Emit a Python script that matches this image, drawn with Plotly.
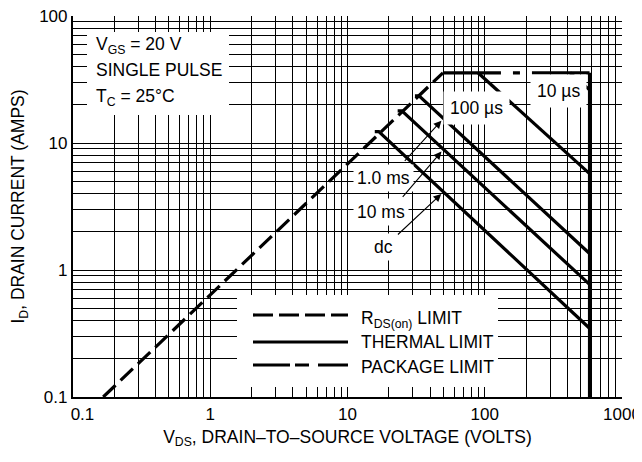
import numpy as np
import plotly.graph_objects as go

FONT = "Liberation Sans, Arial, Helvetica, sans-serif"
FS = 17.5
TFS = 17

# ---------------- data ----------------
rds_v = [0.166, 49.6]
rds_i = [0.1, 35.7]

pkg_v = [49.6, 580]
pkg_i = [35.7, 35.7]

bvdss_v = [580, 580]
bvdss_i = [35.7, 0.1]

t10us_v = [418, 580]
t10us_i = [35.7, 26.2]

t100us_v = [89.3, 580]
t100us_i = [35.7, 5.74]

t1ms_v = [31.0, 33.2, 580]
t1ms_i = [23.5, 23.5, 1.35]

t10ms_v = [23.2, 24.9, 580]
t10ms_i = [17.9, 17.9, 0.77]

tdc_v = [15.8, 16.9, 580]
tdc_i = [12.3, 12.3, 0.348]

x_decades = [0.1, 1, 10, 100, 1000]
y_decades = [0.1, 1, 10, 100]
x_ticktext = ["\u00a0\u00a0\u00a0\u00a00.1", "1", "10", "100", "1000"]
y_ticktext = ["0.1", "1", "10", "100"]

# ---------------- figure ----------------
# the page body has an 8px margin, so the figure is offset by 8px in the window
OFF = 8
PL, PT = 73, 16          # plot-area left/top in window pixels
PW, PH = 549, 381        # plot-area size
WID, HEI = 642 - OFF, 462 - OFF
L, T = PL - OFF, PT - OFF
R = WID - L - PW
B = HEI - T - PH


def px(x):
    return (x - PL) / PW


def py(y):
    return 1 - (y - PT) / PH


def grid_vals(decades):
    vals = []
    for d in decades[:-1]:
        for k in range(1, 10):
            vals.append(d * k)
    vals.append(decades[-1])
    return vals


def grid_text(decades, labels):
    vals = grid_vals(decades)
    lab = dict(zip(decades, labels))
    return [lab.get(v, "") for v in vals]


fig = go.Figure()
LW = 3.2
BLACK = "black"

fig.add_trace(go.Scatter(x=rds_v, y=rds_i, mode="lines",
                         line=dict(color=BLACK, width=LW, dash="17px,7px")))
fig.add_trace(go.Scatter(x=pkg_v, y=pkg_i, mode="lines",
                         line=dict(color=BLACK, width=LW, dash="58px,12px,7px,12px,80px")))
for vv, ii in [(bvdss_v, bvdss_i), (t10us_v, t10us_i), (t100us_v, t100us_i),
               (t1ms_v, t1ms_i), (t10ms_v, t10ms_i), (tdc_v, tdc_i)]:
    fig.add_trace(go.Scatter(x=vv, y=ii, mode="lines",
                             line=dict(color=BLACK, width=LW)))


def on_line(vv, ii, v):
    return 10 ** np.interp(np.log10(v), np.log10(vv), np.log10(ii))


shapes = []
annotations = []


def txt_font(size=FS):
    return dict(family=FONT, size=size, color=BLACK)


# condition box
shapes.append(dict(type="rect", xref="paper", yref="paper", layer="above",
                   x0=px(87), x1=px(229), y0=py(115), y1=py(32),
                   fillcolor="white", line=dict(width=0)))
for txt, yy in [("V<sub>GS</sub> = 20 V", 46), ("SINGLE PULSE", 70), ("T<sub>C</sub> = 25°C", 97)]:
    annotations.append(dict(xref="paper", yref="paper", x=px(94), y=py(yy),
                            xanchor="left", yanchor="middle", align="left",
                            showarrow=False, text=txt, font=txt_font()))

# legend box
shapes.append(dict(type="rect", xref="paper", yref="paper", layer="above",
                   x0=px(237), x1=px(498), y0=py(387), y1=py(295),
                   fillcolor="white", line=dict(width=0)))
leg = [("R<sub>DS(on)</sub> LIMIT", 315, 319, "20px,6px"),
       ("THERMAL LIMIT", 342, 342, "solid"),
       ("PACKAGE LIMIT", 365, 367, "37px,5px,14px,9px,40px")]
for txt, yy, ty, dash in leg:
    shapes.append(dict(type="line", xref="paper", yref="paper", layer="above",
                       x0=px(253), x1=px(348), y0=py(yy), y1=py(yy),
                       line=dict(color=BLACK, width=LW, dash=dash)))
    annotations.append(dict(xref="paper", yref="paper", x=px(359), y=py(ty),
                            xanchor="left", yanchor="middle", showarrow=False,
                            text=txt, font=txt_font()))

# curve labels
labels = [("100 µs", 476, 108, 6), ("10 µs", 558, 91, 6),
          ("1.0 ms", 383, 178, 3), ("10 ms", 381, 212, 3), ("dc", 383, 247, 3)]
for txt, xx, yy, pad in labels:
    annotations.append(dict(xref="paper", yref="paper", x=px(xx), y=py(yy),
                            xanchor="center", yanchor="middle", showarrow=False,
                            text=txt, bgcolor="white", borderpad=pad,
                            font=txt_font()))

# arrows
V_HEAD = 50
for vv, ii, axp, ayp in [(t1ms_v, t1ms_i, -40, 44), (t10ms_v, t10ms_i, -42, 49),
                         (tdc_v, tdc_i, -47, 44)]:
    annotations.append(dict(xref="x", yref="y", x=np.log10(V_HEAD),
                            y=np.log10(on_line(vv, ii, V_HEAD)),
                            axref="pixel", ayref="pixel", ax=axp, ay=ayp,
                            text="", showarrow=True, arrowhead=2, arrowsize=1.4,
                            arrowwidth=1.1, arrowcolor=BLACK, standoff=3))

fig.update_layout(
    width=WID, height=HEI,
    margin=dict(l=L, r=R, t=T, b=B, autoexpand=False),
    paper_bgcolor="white", plot_bgcolor="white",
    showlegend=False,
    font=dict(family=FONT, size=FS, color=BLACK),
    shapes=shapes, annotations=annotations,
)
fig.update_xaxes(type="log", range=[-1, 3], tickmode="array",
                 tickvals=grid_vals(x_decades), ticktext=grid_text(x_decades, x_ticktext),
                 showgrid=True, gridcolor=BLACK, gridwidth=1,
                 showline=True, linecolor=BLACK, linewidth=2.2, ticks="",
                 tickfont=txt_font(TFS), ticklabeloverflow="allow",
                 zeroline=False, automargin=False,
                 title=dict(text="V<sub>DS</sub>, DRAIN–TO–SOURCE VOLTAGE (VOLTS)",
                            font=txt_font(), standoff=8))
fig.update_yaxes(type="log", range=[-1, 2], tickmode="array",
                 tickvals=grid_vals(y_decades), ticktext=grid_text(y_decades, y_ticktext),
                 showgrid=True, gridcolor=BLACK, gridwidth=1,
                 showline=True, linecolor=BLACK, linewidth=2.2, ticks="",
                 tickfont=txt_font(TFS), ticklabeloverflow="allow",
                 zeroline=False, automargin=False,
                 title=dict(text="I<sub>D</sub>, DRAIN CURRENT (AMPS)",
                            font=txt_font(), standoff=10))

fig.write_html("out.html")
